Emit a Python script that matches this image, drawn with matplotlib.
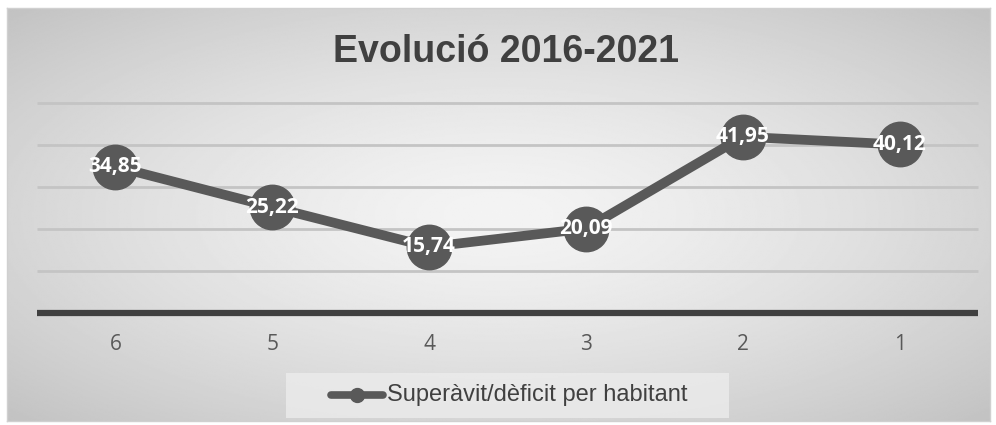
import numpy as np
import matplotlib
matplotlib.use("Agg")
import matplotlib.pyplot as plt
from matplotlib.patches import Rectangle

categories = ["6", "5", "4", "3", "2", "1"]
values = [34.85, 25.22, 15.74, 20.09, 41.95, 40.12]
labels = ["34,85", "25,22", "15,74", "20,09", "41,95", "40,12"]
title = "Evolució 2016-2021"
series_name = "Superàvit/dèficit per habitant"

W, H = 996, 425
fig = plt.figure(figsize=(W / 100, H / 100), dpi=100)
fig.patch.set_facecolor("white")

# background gradient for chart area
bg = fig.add_axes([7 / W, 1 - 421 / H, (990 - 7) / W, (421 - 8) / H])
yy, xx = np.mgrid[-1:1:300j, -1:1:600j]
r = np.sqrt((xx * 0.9) ** 2 + (yy * 0.9) ** 2)
r = np.clip(r, 0, 1.3)
grad = 0.955 - 0.2 * (r / 1.3) ** 1.4
bg.imshow(grad, cmap="gray", vmin=0, vmax=1, aspect="auto", extent=[0, 1, 0, 1])
bg.set_xlim(0, 1); bg.set_ylim(0, 1)
bg.set_xticks([]); bg.set_yticks([])
for s in bg.spines.values():
    s.set_color("#d0d0d0"); s.set_linewidth(1)

# main axes
x0, x1 = 37, 978
y_top, y_zero = 103, 313
ax = fig.add_axes([x0 / W, 1 - y_zero / H, (x1 - x0) / W, (y_zero - y_top) / H])
ax.patch.set_alpha(0)
ax.set_ylim(0, 50)
ax.set_xlim(-0.5, len(categories) - 0.5)
for v in [10, 20, 30, 40, 50]:
    ax.axhline(v, color="#c4c4c4", lw=2, zorder=1, clip_on=False, solid_capstyle="butt")
ax.axhline(0, color="#404040", lw=4.5, zorder=2, clip_on=False, solid_capstyle="butt")
for s in ax.spines.values():
    s.set_visible(False)
ax.set_yticks([])
xs = np.arange(len(categories))
ax.set_xticks(xs)
ax.set_xticklabels(categories, fontsize=15, color="#595959", family="Open Sans")
ax.tick_params(axis="x", length=0, pad=15)

ax.plot(xs, values, color="#595959", lw=7, marker="o", markersize=32,
        markerfacecolor="#595959", markeredgecolor="#595959", zorder=3, clip_on=False)
for x, v, lab in zip(xs, values, labels):
    ax.text(x, v, lab, ha="center", va="center", color="white", fontsize=15,
            fontweight="bold", family="Open Sans", zorder=4)

fig.text(506 / W, 1 - 52 / H, title, ha="center", va="center", fontsize=27,
         fontweight="bold", color="#404040", family="Liberation Sans")

# legend box
lg = fig.add_axes([286 / W, 1 - 418 / H, (729 - 286) / W, (418 - 373) / H])
lg.set_xlim(286, 729); lg.set_ylim(418, 373)
lg.add_patch(Rectangle((286, 373), 443, 45, facecolor="#ececec", edgecolor="none", alpha=0.8))
lg.plot([331, 383], [395.5, 395.5], color="#595959", lw=5.5, solid_capstyle="round")
lg.plot([357], [395.5], marker="o", markersize=10, color="#595959")
lg.text(387, 395, series_name, ha="left", va="center", fontsize=17,
        color="#404040", family="Liberation Sans")
lg.axis("off")

fig.savefig("out.png", dpi=100)
